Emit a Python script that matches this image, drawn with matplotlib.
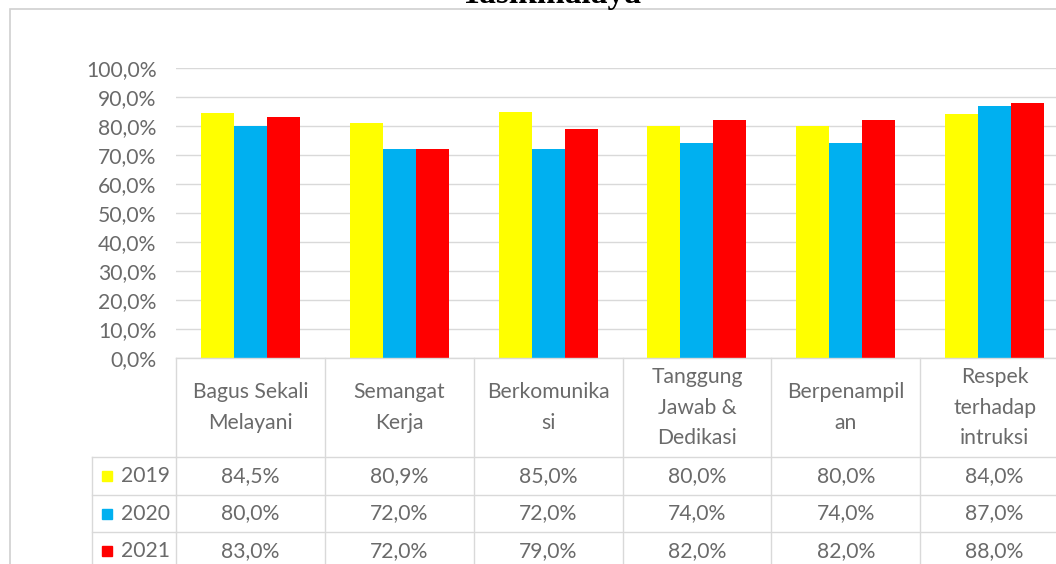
import numpy as np
import matplotlib
matplotlib.use("Agg")
import matplotlib.pyplot as plt
from matplotlib.patches import Rectangle
from matplotlib import transforms

# ---------------- data ----------------
categories = ["Bagus Sekali\nMelayani", "Semangat\nKerja", "Berkomunika\nsi",
              "Tanggung\nJawab &\nDedikasi", "Berpenampil\nan",
              "Respek\nterhadap\nintruksi"]
years = ["2019", "2020", "2021"]
v2019 = [84.5, 80.9, 85.0, 80.0, 80.0, 84.0]
v2020 = [80.0, 72.0, 72.0, 74.0, 74.0, 87.0]
v2021 = [83.0, 72.0, 79.0, 82.0, 82.0, 88.0]
series = [v2019, v2020, v2021]
colors = ["#FFFF00", "#00B0F0", "#FF0000"]
yticks = [0, 10, 20, 30, 40, 50, 60, 70, 80, 90, 100]
title = "Tasikmalaya"

# ---------------- layout helpers ----------------
W, H = 1056, 564
def fx(px):
    return px / W
def fy(py):
    return 1 - py / H

FONT = "Lato"
TXT = "#6a6a6a"
GRID = "#d9d9d9"
FS = 15.2

fig = plt.figure(figsize=(W / 100, H / 100), dpi=100)
fig.patch.set_facecolor("white")

# chart-area border (extends beyond the cropped picture)
fig.patches.append(Rectangle((fx(10), fy(620)), fx(1100), (620 - 9) / H,
                             transform=fig.transFigure, fill=False,
                             edgecolor="#d0d0d0", linewidth=1.2))

# title (cropped at top)
fig.text(fx(551), fy(3), title, ha="center", va="baseline",
         fontsize=24, fontweight="bold", family="Liberation Serif", color="black")

# ---------------- main axes ----------------
left_px, right_px, y0_px, y100_px = 176, 1069, 358, 68
ax = fig.add_axes([fx(left_px), fy(y0_px), fx(right_px - left_px), (y0_px - y100_px) / H])
x = np.arange(len(categories))
bw = 0.222
for i, (vals, c) in enumerate(zip(series, colors)):
    ax.bar(x + (i - 1) * bw, vals, width=bw, color=c, zorder=3)

ax.set_xlim(-0.5, len(categories) - 0.5)
ax.set_ylim(0, 100)
ax.set_yticks(yticks)
ax.set_yticklabels([f"{t:.1f}%".replace(".", ",") for t in yticks],
                   family=FONT, fontsize=FS, color=TXT)
ax.tick_params(axis="y", length=0, pad=14)
ax.tick_params(axis="x", length=0, labelbottom=False)
ax.yaxis.grid(True, color=GRID, linewidth=1, zorder=0)
for s in ax.spines.values():
    s.set_visible(False)

# ---------------- data table ----------------
tab_bottom_px = 620
tab = fig.add_axes([fx(left_px), fy(tab_bottom_px), fx(right_px - left_px),
                    (tab_bottom_px - y0_px) / H], sharex=ax)
tab.set_ylim(tab_bottom_px, y0_px)
tab.axis("off")
row_edges = [358, 457, 495, 532, 570]
leg_left_px = 92
blend = transforms.blended_transform_factory(fig.transFigure, tab.transData)

# horizontal lines
tab.plot([-0.5, len(categories) - 0.5], [row_edges[0]] * 2, color=GRID, lw=1, clip_on=False)
for ry in row_edges[1:]:
    tab.plot([-0.5, len(categories) - 0.5], [ry, ry], color=GRID, lw=1, clip_on=False)
    tab.plot([fx(leg_left_px), fx(left_px)], [ry, ry], color=GRID, lw=1,
             transform=blend, clip_on=False)
# vertical lines
for k in range(len(categories) + 1):
    tab.plot([k - 0.5, k - 0.5], [row_edges[0], tab_bottom_px], color=GRID, lw=1, clip_on=False)
tab.plot([fx(leg_left_px)] * 2, [row_edges[1], tab_bottom_px], color=GRID, lw=1,
         transform=blend, clip_on=False)

# category labels
cat_mid = (row_edges[0] + row_edges[1]) / 2
for i, cat in enumerate(categories):
    tab.text(i, cat_mid, cat, ha="center", va="center", family=FONT,
             fontsize=FS, color=TXT, linespacing=1.65)

# value rows with legend keys
for r, (yr, vals, c) in enumerate(zip(years, series, colors)):
    ymid = (row_edges[r + 1] + row_edges[r + 2]) / 2
    tab.plot([fx(107)], [ymid], marker="s", markersize=7.5, color=c,
             transform=blend, clip_on=False, linestyle="none")
    tab.text(fx(121), ymid, yr, ha="left", va="center", family=FONT,
             fontsize=FS, color=TXT, transform=blend)
    for i, v in enumerate(vals):
        tab.text(i, ymid, f"{v:.1f}%".replace(".", ","), ha="center", va="center",
                 family=FONT, fontsize=FS, color=TXT)

fig.savefig("out.png", dpi=100)
